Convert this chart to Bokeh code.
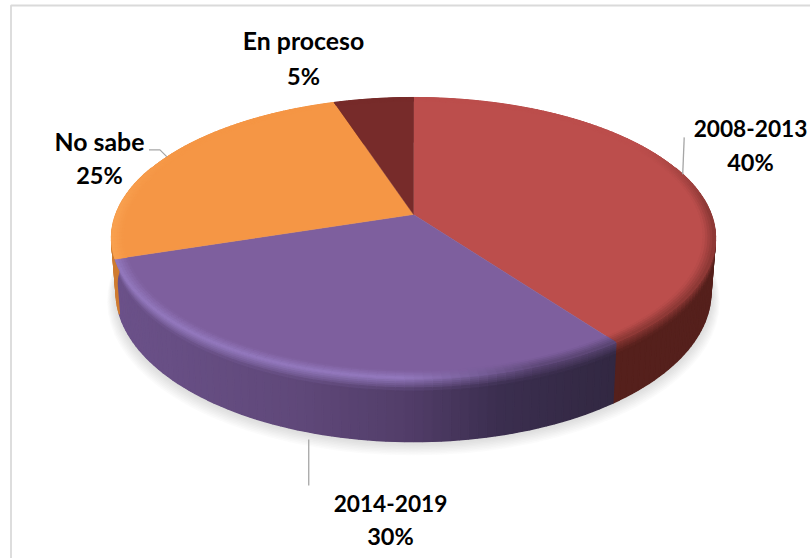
import math
from bokeh.plotting import figure
from bokeh.models import ColumnDataSource
from bokeh.core.properties import value
from bokeh.embed import file_html
from bokeh.resources import INLINE

# data (clockwise from 12 o'clock)
categories = ["2008-2013", "2014-2019", "No sabe", "En proceso"]
shares = [40, 30, 25, 5]
top_colors = ["#BC4E4C", "#7E5F9E", "#F59645", "#772B2A"]

W, H = 810, 558
CX, CY = 413, 214       # apex of the pie on screen
A, B, C = 136.6, 0.1673, 297.7   # perspective of the disc
DEPTH = 52.5
SHRINK = 0.985


def rgb(h):
    return tuple(int(h[i:i + 2], 16) for i in (1, 3, 5))


def mix(a, b, t):
    t = max(0.0, min(1.0, t))
    return tuple(a[i] + (b[i] - a[i]) * t for i in range(3))


def hexs(c):
    return "#%02x%02x%02x" % tuple(int(round(v)) for v in c)


def rim(theta, r=1.0):
    u = -math.cos(theta) * r
    v = math.sin(theta) * r
    d = 1 - B * u
    return CX + C * v / d, CY + A * u / d


def bottom(theta):
    x, y = rim(theta)
    u = -math.cos(theta)
    return CX + (x - CX) * SHRINK, y + DEPTH / (1 - B * u)


def surf(theta, s):
    """s < 0: on the top face at radius 1+s. 0..1: down the side wall."""
    if s <= 0:
        return rim(theta, 1 + s)
    x0, y0 = rim(theta)
    x1, y1 = bottom(theta)
    return x0 + (x1 - x0) * s, y0 + (y1 - y0) * s


PURPLE_SIDE = [(116, "#6B5189"), (300, "#5F4879"), (405, "#523D69"), (500, "#3B2E4F"), (612, "#322842")]


def side_color(i, x):
    if i == 0:
        return rgb("#55201C")
    if i == 2:
        return rgb("#CF7B30")
    if i == 3:
        return rgb("#4A1A1A")
    for (x0, c0), (x1, c1) in zip(PURPLE_SIDE, PURPLE_SIDE[1:]):
        if x <= x1:
            return mix(rgb(c0), rgb(c1), (x - x0) / (x1 - x0))
    return rgb(PURPLE_SIDE[-1][1])


def edge_color(i, x, side):
    top = rgb(top_colors[i])
    if i == 1:
        h = max(0.0, min(1.0, (540 - x) / 140))
        return mix(mix(top, side, 0.5), rgb("#947ABF"), h)
    if i == 2:
        return mix(top, rgb("#FBA858"), 0.6)
    return mix(top, side, 0.5)


def face_color(i, theta, s):
    x, _ = rim(theta)
    u = -math.cos(theta)
    f = max(0.0, min(1.0, (u + 0.55) / 0.5))
    top = rgb(top_colors[i])
    side = side_color(i, x)
    edge = mix(top, edge_color(i, x, side), f)
    if s <= 0:
        return mix(top, edge, (s + BEVEL) / BEVEL)
    return mix(edge, side, s / BLUR)


BEVEL = 0.04
BLUR = 0.2
stops = [-BEVEL, -0.032, -0.024, -0.016, -0.008, 0, 0.03, 0.06, 0.09, 0.12, 0.15, 0.2, 1.0]

starts = []
acc = 0.0
for sh in shares:
    starts.append(acc)
    acc += sh
TOTAL = float(acc)


def ang(p):
    return 2 * math.pi * p / TOTAL


def seq(a, b, step=math.radians(1.5)):
    n = max(2, int(math.ceil((b - a) / step)))
    return [a + (b - a) * k / n for k in range(n + 1)]


p = figure(width=W, height=H, x_range=(0, W), y_range=(H, 0), toolbar_location=None,
           output_backend="svg", min_border=0, outline_line_color=None,
           background_fill_color="white", border_fill_color="white",
           styles={"position": "absolute", "left": "0px", "top": "0px"})
p.axis.visible = False
p.grid.visible = False

# frame
p.line(x=[W + 5, 10.5, 10.5], y=[5, 5, H + 5], line_color="#DADADA", line_width=1.8)

# soft shadow
full = seq(0, 2 * math.pi, math.radians(4))
for k in range(1, 10):
    sc = 1 + 0.0033 * k
    dy = 0.9 * k
    xs, ys = [], []
    for t in full:
        x, y = bottom(t)
        xs.append(CX + (x - CX) * sc)
        ys.append(250 + (y - 250) * sc + dy)
    p.patch(xs, ys, fill_color="#808080", fill_alpha=0.035, line_color=None)

# side wall and bevel, as thin quads
wall = {"xs": [], "ys": [], "c": []}
bevel = {"xs": [], "ys": [], "c": []}
tops = {"xs": [], "ys": [], "c": []}
under = {"xs": [], "ys": [], "c": []}
for i, (st, sh) in enumerate(zip(starts, shares)):
    a, b = ang(st), ang(st + sh)
    th = seq(a, b)
    xs, ys = zip(*[rim(t) for t in th])
    tops["xs"].append([CX] + list(xs))
    tops["ys"].append([CY] + list(ys))
    tops["c"].append(top_colors[i])
    bx, by = zip(*[bottom(t) for t in th])
    under["xs"].append(list(xs) + list(bx)[::-1])
    under["ys"].append(list(ys) + list(by)[::-1])
    under["c"].append(hexs(side_color(i, (xs[0] + xs[-1]) / 2)))
    for t0, t1 in zip(th, th[1:]):
        tm = (t0 + t1) / 2
        for s0, s1 in zip(stops, stops[1:]):
            if s0 >= 0 and -math.cos(tm) < -0.35:
                continue
            q = [surf(t0, s0), surf(t1, s0), surf(t1, s1), surf(t0, s1)]
            c = hexs(face_color(i, tm, (s0 + s1) / 2 if s1 < 1 else 1))
            tgt = bevel if s1 <= 0 else wall
            tgt["xs"].append([z[0] for z in q])
            tgt["ys"].append([z[1] for z in q])
            tgt["c"].append(c)

p.patches("xs", "ys", source=ColumnDataSource(under), fill_color="c", line_color=None)
p.patches("xs", "ys", source=ColumnDataSource(wall), fill_color="c", line_color="c", line_width=1.4)
p.patches("xs", "ys", source=ColumnDataSource(tops), fill_color="c", line_color="c", line_width=0.4)
p.patches("xs", "ys", source=ColumnDataSource(bevel), fill_color="c", line_color="c", line_width=1.0)

# leader lines: each starts at the middle of its slice
mid = [ang(s + v / 2) for s, v in zip(starts, shares)]
x0, y0 = rim(mid[0])
p.line([x0, x0 + 1.5], [y0, y0 - 37], line_color="#A6A6A6", line_width=1.3)
x1, y1 = bottom(mid[1])
p.line([x1 + 3, x1 + 3], [y1 + 8, y1 + 54], line_color="#A6A6A6", line_width=1.3)
x2, y2 = rim(mid[2])
p.line([x2, x2 - 7, x2 - 18], [y2, y2 - 7, y2 - 7], line_color="#A6A6A6", line_width=1.3)

# labels
label_x = [750, 390, 99, 303]
name_y = [128, 503, 141, 40]
pct_y = [161, 535, 174, 75]
name_size = ["22.7px", "22.7px", "24.8px", "24.8px"]
tx = ColumnDataSource(dict(
    x=label_x + label_x,
    y=name_y + pct_y,
    t=categories + ["%d%%" % v for v in shares],
    fs=name_size + ["23.5px"] * 4,
))
p.text("x", "y", "t", source=tx, text_font=value("Lato"), text_font_style="bold",
       text_font_size="fs", text_align="center", text_baseline="middle", text_color="#000000")

open("out.html", "w").write(file_html(p, INLINE))
